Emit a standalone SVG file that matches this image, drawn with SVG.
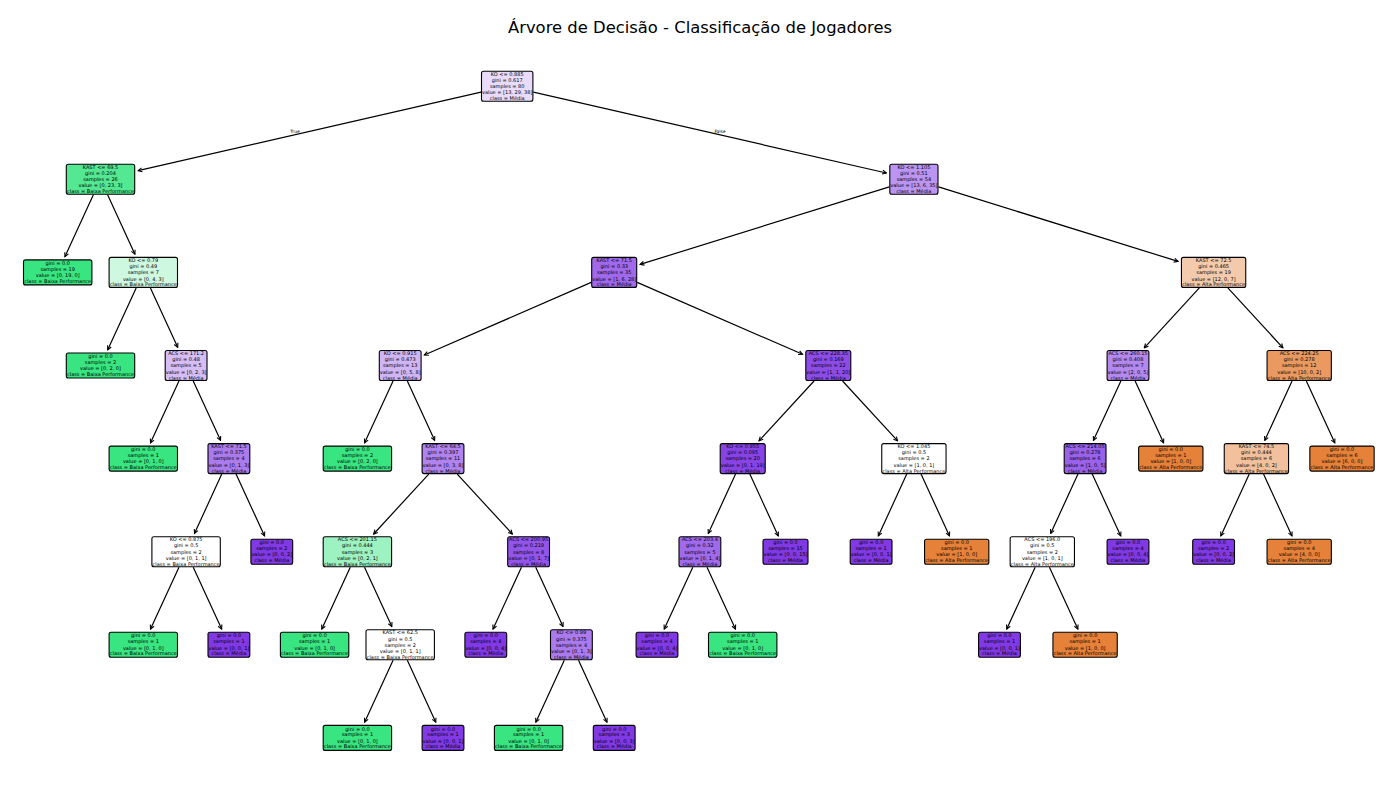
<svg xmlns="http://www.w3.org/2000/svg" width="1400" height="800" viewBox="0 0 1400 800">
<style>
.node rect{stroke:#000;stroke-width:1.1}
.node text{font-family:"DejaVu Sans","Liberation Sans",sans-serif;font-size:5.0px;text-anchor:middle;fill:#000;text-rendering:geometricPrecision}
.g{fill:#39e581}.p{fill:#8139e5}.o{fill:#e58139}.w{fill:#ffffff}
#edges line{stroke:#000;stroke-width:1.2;marker-end:url(#ah)}
.lbl{font-family:"DejaVu Sans","Liberation Sans",sans-serif;font-size:4.4px;text-anchor:middle;fill:#000;text-rendering:geometricPrecision}
.title{font-family:"DejaVu Sans","Liberation Sans",sans-serif;font-size:16.4px;text-anchor:middle;fill:#000}
</style>
<defs>
<marker id="ah" viewBox="-5 -3 6 6" markerWidth="6" markerHeight="6" refX="0" refY="0" orient="auto" markerUnits="userSpaceOnUse">
<path d="M-4,-2 L0,0 L-4,2" fill="none" stroke="#000" stroke-width="1.1"/>
</marker>
</defs>
<rect width="1400" height="800" fill="#ffffff"/>
<text class="title" x="700" y="32.5">Árvore de Decisão - Classificação de Jogadores</text>
<text class="lbl" x="295" y="132.5">True</text>
<text class="lbl" x="720" y="132.5">False</text>

<g id="edges">
<line x1="481.0" y1="92.2" x2="138.1" y2="170.7"/>
<line x1="533.4" y1="92.2" x2="886.4" y2="173.0"/>
<line x1="889.3" y1="186.9" x2="640.1" y2="264.4"/>
<line x1="938.5" y1="186.9" x2="1178.1" y2="261.4"/>
<line x1="591.2" y1="282.4" x2="424.35" y2="355.0"/>
<line x1="637.2" y1="282.4" x2="802.55" y2="354.3"/>
<line x1="1199.35" y1="287.9" x2="1144.28" y2="347.79"/>
<line x1="1227.85" y1="287.9" x2="1282.92" y2="347.79"/>
<line x1="93.37" y1="194.8" x2="64.93" y2="256.67"/>
<line x1="107.63" y1="194.8" x2="134.92" y2="254.17"/>
<line x1="136.17" y1="287.9" x2="107.73" y2="349.77"/>
<line x1="150.43" y1="287.9" x2="177.72" y2="347.27"/>
<line x1="178.97" y1="381" x2="150.53" y2="442.87"/>
<line x1="193.23" y1="381" x2="220.52" y2="440.37"/>
<line x1="221.77" y1="474.1" x2="194.48" y2="533.47"/>
<line x1="236.03" y1="474.1" x2="264.57" y2="535.97"/>
<line x1="178.97" y1="567.2" x2="150.53" y2="629.07"/>
<line x1="193.23" y1="567.2" x2="221.67" y2="629.07"/>
<line x1="393.07" y1="381" x2="364.63" y2="442.87"/>
<line x1="407.33" y1="381" x2="434.62" y2="440.37"/>
<line x1="428.75" y1="474.1" x2="373.68" y2="533.99"/>
<line x1="457.25" y1="474.1" x2="512.32" y2="533.99"/>
<line x1="350.27" y1="567.2" x2="321.83" y2="629.07"/>
<line x1="364.53" y1="567.2" x2="391.82" y2="626.57"/>
<line x1="393.07" y1="660.3" x2="364.63" y2="722.17"/>
<line x1="407.33" y1="660.3" x2="435.77" y2="722.17"/>
<line x1="521.47" y1="567.2" x2="493.03" y2="629.07"/>
<line x1="535.73" y1="567.2" x2="563.02" y2="626.57"/>
<line x1="564.27" y1="660.3" x2="535.83" y2="722.17"/>
<line x1="578.53" y1="660.3" x2="606.97" y2="722.17"/>
<line x1="814.05" y1="381" x2="758.98" y2="440.89"/>
<line x1="842.55" y1="381" x2="897.62" y2="440.89"/>
<line x1="735.57" y1="474.1" x2="708.28" y2="533.47"/>
<line x1="749.83" y1="474.1" x2="778.27" y2="535.97"/>
<line x1="692.77" y1="567.2" x2="664.23" y2="629.07"/>
<line x1="707.03" y1="567.2" x2="735.47" y2="629.07"/>
<line x1="906.77" y1="474.1" x2="878.33" y2="535.97"/>
<line x1="921.03" y1="474.1" x2="949.47" y2="535.97"/>
<line x1="1120.87" y1="381" x2="1093.48" y2="440.37"/>
<line x1="1135.13" y1="381" x2="1163.57" y2="442.87"/>
<line x1="1077.97" y1="474.1" x2="1050.68" y2="533.47"/>
<line x1="1092.23" y1="474.1" x2="1120.77" y2="535.97"/>
<line x1="1035.17" y1="567.2" x2="1006.73" y2="629.07"/>
<line x1="1049.43" y1="567.2" x2="1077.87" y2="629.07"/>
<line x1="1292.07" y1="381" x2="1264.78" y2="440.37"/>
<line x1="1306.33" y1="381" x2="1334.77" y2="442.87"/>
<line x1="1249.27" y1="474.1" x2="1220.83" y2="535.97"/>
<line x1="1263.53" y1="474.1" x2="1291.97" y2="535.97"/>
</g>

<g id="n0" class="node" transform="translate(507.2,86.2)"><rect x="-25.7" y="-15" width="51.4" height="30" rx="2" fill="#e9dcfa"/><text><tspan x="0" y="-10.4">KO &lt;= 0.885</tspan><tspan x="0" y="-4.3">gini = 0.617</tspan><tspan x="0" y="1.8">samples = 80</tspan><tspan x="0" y="8.2">value = [13, 29, 38]</tspan><tspan x="0" y="14.1">class = Média</tspan></text></g>
<g id="n1" class="node" transform="translate(100.5,179.3)"><rect x="-34.2" y="-15" width="68.4" height="30" rx="2" fill="#53e891"/><text><tspan x="0" y="-10.4">KAST &lt;= 69.5</tspan><tspan x="0" y="-4.3">gini = 0.204</tspan><tspan x="0" y="1.8">samples = 26</tspan><tspan x="0" y="8.2">value = [0, 23, 3]</tspan><tspan x="0" y="14.1">class = Baixa Performance</tspan></text></g>
<g id="n2" class="node" transform="translate(913.9,179.3)"><rect x="-24.1" y="-15" width="48.2" height="30" rx="2" fill="#bb95f1"/><text><tspan x="0" y="-10.4">KO &lt;= 1.105</tspan><tspan x="0" y="-4.3">gini = 0.51</tspan><tspan x="0" y="1.8">samples = 54</tspan><tspan x="0" y="8.2">value = [13, 6, 35]</tspan><tspan x="0" y="14.1">class = Média</tspan></text></g>
<g id="n3" class="node" transform="translate(57.7,272.4)"><rect class="g" x="-34.2" y="-12.5" width="68.4" height="25" rx="2"/><text><tspan x="0" y="-7.4">gini = 0.0</tspan><tspan x="0" y="-1.5">samples = 19</tspan><tspan x="0" y="4.8">value = [0, 19, 0]</tspan><tspan x="0" y="10.6">class = Baixa Performance</tspan></text></g>
<g id="n4" class="node" transform="translate(143.3,272.4)"><rect x="-34.2" y="-15" width="68.4" height="30" rx="2" fill="#cef8e0"/><text><tspan x="0" y="-10.4">KO &lt;= 0.79</tspan><tspan x="0" y="-4.3">gini = 0.49</tspan><tspan x="0" y="1.8">samples = 7</tspan><tspan x="0" y="8.2">value = [0, 4, 3]</tspan><tspan x="0" y="14.1">class = Baixa Performance</tspan></text></g>
<g id="n5" class="node" transform="translate(614.2,272.4)"><rect x="-22.5" y="-15" width="45" height="30" rx="2" fill="#a069eb"/><text><tspan x="0" y="-10.4">KAST &lt;= 71.5</tspan><tspan x="0" y="-4.3">gini = 0.33</tspan><tspan x="0" y="1.8">samples = 35</tspan><tspan x="0" y="8.2">value = [1, 6, 28]</tspan><tspan x="0" y="14.1">class = Média</tspan></text></g>
<g id="n6" class="node" transform="translate(1213.6,272.4)"><rect x="-32.15" y="-15" width="64.3" height="30" rx="2" fill="#f4caac"/><text><tspan x="0" y="-10.4">KAST &lt;= 72.5</tspan><tspan x="0" y="-4.3">gini = 0.465</tspan><tspan x="0" y="1.8">samples = 19</tspan><tspan x="0" y="8.2">value = [12, 0, 7]</tspan><tspan x="0" y="14.1">class = Alta Performance</tspan></text></g>
<g id="n7" class="node" transform="translate(100.5,365.5)"><rect class="g" x="-34.2" y="-12.5" width="68.4" height="25" rx="2"/><text><tspan x="0" y="-7.4">gini = 0.0</tspan><tspan x="0" y="-1.5">samples = 2</tspan><tspan x="0" y="4.8">value = [0, 2, 0]</tspan><tspan x="0" y="10.6">class = Baixa Performance</tspan></text></g>
<g id="n8" class="node" transform="translate(186.1,365.5)"><rect x="-20.9" y="-15" width="41.8" height="30" rx="2" fill="#d5bdf6"/><text><tspan x="0" y="-10.4">ACS &lt;= 171.2</tspan><tspan x="0" y="-4.3">gini = 0.48</tspan><tspan x="0" y="1.8">samples = 5</tspan><tspan x="0" y="8.2">value = [0, 2, 3]</tspan><tspan x="0" y="14.1">class = Média</tspan></text></g>
<g id="n9" class="node" transform="translate(400.2,365.5)"><rect x="-20.9" y="-15" width="41.8" height="30" rx="2" fill="#d0b5f5"/><text><tspan x="0" y="-10.4">KO &lt;= 0.915</tspan><tspan x="0" y="-4.3">gini = 0.473</tspan><tspan x="0" y="1.8">samples = 13</tspan><tspan x="0" y="8.2">value = [0, 5, 8]</tspan><tspan x="0" y="14.1">class = Média</tspan></text></g>
<g id="n10" class="node" transform="translate(828.3,365.5)"><rect x="-22.5" y="-15" width="45" height="30" rx="2" fill="#8d4ce7"/><text><tspan x="0" y="-10.4">ACS &lt;= 228.35</tspan><tspan x="0" y="-4.3">gini = 0.169</tspan><tspan x="0" y="1.8">samples = 22</tspan><tspan x="0" y="8.2">value = [1, 1, 20]</tspan><tspan x="0" y="14.1">class = Média</tspan></text></g>
<g id="n11" class="node" transform="translate(1128.0,365.5)"><rect x="-20.9" y="-15" width="41.8" height="30" rx="2" fill="#b388ef"/><text><tspan x="0" y="-10.4">ACS &lt;= 260.15</tspan><tspan x="0" y="-4.3">gini = 0.408</tspan><tspan x="0" y="1.8">samples = 7</tspan><tspan x="0" y="8.2">value = [2, 0, 5]</tspan><tspan x="0" y="14.1">class = Média</tspan></text></g>
<g id="n12" class="node" transform="translate(1299.2,365.5)"><rect x="-32.15" y="-15" width="64.3" height="30" rx="2" fill="#ea9a61"/><text><tspan x="0" y="-10.4">ACS &lt;= 224.25</tspan><tspan x="0" y="-4.3">gini = 0.278</tspan><tspan x="0" y="1.8">samples = 12</tspan><tspan x="0" y="8.2">value = [10, 0, 2]</tspan><tspan x="0" y="14.1">class = Alta Performance</tspan></text></g>
<g id="n13" class="node" transform="translate(143.3,458.6)"><rect class="g" x="-34.2" y="-12.5" width="68.4" height="25" rx="2"/><text><tspan x="0" y="-7.4">gini = 0.0</tspan><tspan x="0" y="-1.5">samples = 1</tspan><tspan x="0" y="4.8">value = [0, 1, 0]</tspan><tspan x="0" y="10.6">class = Baixa Performance</tspan></text></g>
<g id="n14" class="node" transform="translate(228.9,458.6)"><rect x="-20.9" y="-15" width="41.8" height="30" rx="2" fill="#ab7bee"/><text><tspan x="0" y="-10.4">KAST &lt;= 71.5</tspan><tspan x="0" y="-4.3">gini = 0.375</tspan><tspan x="0" y="1.8">samples = 4</tspan><tspan x="0" y="8.2">value = [0, 1, 3]</tspan><tspan x="0" y="14.1">class = Média</tspan></text></g>
<g id="n15" class="node" transform="translate(357.4,458.6)"><rect class="g" x="-34.2" y="-12.5" width="68.4" height="25" rx="2"/><text><tspan x="0" y="-7.4">gini = 0.0</tspan><tspan x="0" y="-1.5">samples = 2</tspan><tspan x="0" y="4.8">value = [0, 2, 0]</tspan><tspan x="0" y="10.6">class = Baixa Performance</tspan></text></g>
<g id="n16" class="node" transform="translate(443.0,458.6)"><rect x="-20.9" y="-15" width="41.8" height="30" rx="2" fill="#b083ef"/><text><tspan x="0" y="-10.4">KAST &lt;= 64.5</tspan><tspan x="0" y="-4.3">gini = 0.397</tspan><tspan x="0" y="1.8">samples = 11</tspan><tspan x="0" y="8.2">value = [0, 3, 8]</tspan><tspan x="0" y="14.1">class = Média</tspan></text></g>
<g id="n17" class="node" transform="translate(742.7,458.6)"><rect x="-22.5" y="-15" width="45" height="30" rx="2" fill="#8843e6"/><text><tspan x="0" y="-10.4">KO &lt;= 0.955</tspan><tspan x="0" y="-4.3">gini = 0.095</tspan><tspan x="0" y="1.8">samples = 20</tspan><tspan x="0" y="8.2">value = [0, 1, 19]</tspan><tspan x="0" y="14.1">class = Média</tspan></text></g>
<g id="n18" class="node" transform="translate(913.9,458.6)"><rect class="w" x="-32.15" y="-15" width="64.3" height="30" rx="2"/><text><tspan x="0" y="-10.4">KO &lt;= 1.045</tspan><tspan x="0" y="-4.3">gini = 0.5</tspan><tspan x="0" y="1.8">samples = 2</tspan><tspan x="0" y="8.2">value = [1, 0, 1]</tspan><tspan x="0" y="14.1">class = Alta Performance</tspan></text></g>
<g id="n19" class="node" transform="translate(1085.1,458.6)"><rect x="-20.9" y="-15" width="41.8" height="30" rx="2" fill="#9a61ea"/><text><tspan x="0" y="-10.4">ACS &lt;= 214.05</tspan><tspan x="0" y="-4.3">gini = 0.278</tspan><tspan x="0" y="1.8">samples = 6</tspan><tspan x="0" y="8.2">value = [1, 0, 5]</tspan><tspan x="0" y="14.1">class = Média</tspan></text></g>
<g id="n20" class="node" transform="translate(1170.8,458.6)"><rect class="o" x="-32.15" y="-12.5" width="64.3" height="25" rx="2"/><text><tspan x="0" y="-7.4">gini = 0.0</tspan><tspan x="0" y="-1.5">samples = 1</tspan><tspan x="0" y="4.8">value = [1, 0, 0]</tspan><tspan x="0" y="10.6">class = Alta Performance</tspan></text></g>
<g id="n21" class="node" transform="translate(1256.4,458.6)"><rect x="-32.15" y="-15" width="64.3" height="30" rx="2" fill="#f2c09c"/><text><tspan x="0" y="-10.4">KAST &lt;= 74.5</tspan><tspan x="0" y="-4.3">gini = 0.444</tspan><tspan x="0" y="1.8">samples = 6</tspan><tspan x="0" y="8.2">value = [4, 0, 2]</tspan><tspan x="0" y="14.1">class = Alta Performance</tspan></text></g>
<g id="n22" class="node" transform="translate(1342.0,458.6)"><rect class="o" x="-32.15" y="-12.5" width="64.3" height="25" rx="2"/><text><tspan x="0" y="-7.4">gini = 0.0</tspan><tspan x="0" y="-1.5">samples = 6</tspan><tspan x="0" y="4.8">value = [6, 0, 0]</tspan><tspan x="0" y="10.6">class = Alta Performance</tspan></text></g>
<g id="n23" class="node" transform="translate(186.1,551.7)"><rect class="w" x="-34.2" y="-15" width="68.4" height="30" rx="2"/><text><tspan x="0" y="-10.4">KO &lt;= 0.875</tspan><tspan x="0" y="-4.3">gini = 0.5</tspan><tspan x="0" y="1.8">samples = 2</tspan><tspan x="0" y="8.2">value = [0, 1, 1]</tspan><tspan x="0" y="14.1">class = Baixa Performance</tspan></text></g>
<g id="n24" class="node" transform="translate(271.8,551.7)"><rect class="p" x="-20.9" y="-12.5" width="41.8" height="25" rx="2"/><text><tspan x="0" y="-7.4">gini = 0.0</tspan><tspan x="0" y="-1.5">samples = 2</tspan><tspan x="0" y="4.8">value = [0, 0, 2]</tspan><tspan x="0" y="10.6">class = Média</tspan></text></g>
<g id="n25" class="node" transform="translate(357.4,551.7)"><rect x="-34.2" y="-15" width="68.4" height="30" rx="2" fill="#9cf2c0"/><text><tspan x="0" y="-10.4">ACS &lt;= 201.15</tspan><tspan x="0" y="-4.3">gini = 0.444</tspan><tspan x="0" y="1.8">samples = 3</tspan><tspan x="0" y="8.2">value = [0, 2, 1]</tspan><tspan x="0" y="14.1">class = Baixa Performance</tspan></text></g>
<g id="n26" class="node" transform="translate(528.6,551.7)"><rect x="-20.9" y="-15" width="41.8" height="30" rx="2" fill="#9355e9"/><text><tspan x="0" y="-10.4">ACS &lt;= 200.95</tspan><tspan x="0" y="-4.3">gini = 0.219</tspan><tspan x="0" y="1.8">samples = 8</tspan><tspan x="0" y="8.2">value = [0, 1, 7]</tspan><tspan x="0" y="14.1">class = Média</tspan></text></g>
<g id="n27" class="node" transform="translate(699.9,551.7)"><rect x="-20.9" y="-15" width="41.8" height="30" rx="2" fill="#a06aec"/><text><tspan x="0" y="-10.4">ACS &lt;= 203.4</tspan><tspan x="0" y="-4.3">gini = 0.32</tspan><tspan x="0" y="1.8">samples = 5</tspan><tspan x="0" y="8.2">value = [0, 1, 4]</tspan><tspan x="0" y="14.1">class = Média</tspan></text></g>
<g id="n28" class="node" transform="translate(785.5,551.7)"><rect class="p" x="-22.5" y="-12.5" width="45" height="25" rx="2"/><text><tspan x="0" y="-7.4">gini = 0.0</tspan><tspan x="0" y="-1.5">samples = 15</tspan><tspan x="0" y="4.8">value = [0, 0, 15]</tspan><tspan x="0" y="10.6">class = Média</tspan></text></g>
<g id="n29" class="node" transform="translate(871.1,551.7)"><rect class="p" x="-20.9" y="-12.5" width="41.8" height="25" rx="2"/><text><tspan x="0" y="-7.4">gini = 0.0</tspan><tspan x="0" y="-1.5">samples = 1</tspan><tspan x="0" y="4.8">value = [0, 0, 1]</tspan><tspan x="0" y="10.6">class = Média</tspan></text></g>
<g id="n30" class="node" transform="translate(956.7,551.7)"><rect class="o" x="-32.15" y="-12.5" width="64.3" height="25" rx="2"/><text><tspan x="0" y="-7.4">gini = 0.0</tspan><tspan x="0" y="-1.5">samples = 1</tspan><tspan x="0" y="4.8">value = [1, 0, 0]</tspan><tspan x="0" y="10.6">class = Alta Performance</tspan></text></g>
<g id="n31" class="node" transform="translate(1042.3,551.7)"><rect class="w" x="-32.15" y="-15" width="64.3" height="30" rx="2"/><text><tspan x="0" y="-10.4">ACS &lt;= 196.0</tspan><tspan x="0" y="-4.3">gini = 0.5</tspan><tspan x="0" y="1.8">samples = 2</tspan><tspan x="0" y="8.2">value = [1, 0, 1]</tspan><tspan x="0" y="14.1">class = Alta Performance</tspan></text></g>
<g id="n32" class="node" transform="translate(1128.0,551.7)"><rect class="p" x="-20.9" y="-12.5" width="41.8" height="25" rx="2"/><text><tspan x="0" y="-7.4">gini = 0.0</tspan><tspan x="0" y="-1.5">samples = 4</tspan><tspan x="0" y="4.8">value = [0, 0, 4]</tspan><tspan x="0" y="10.6">class = Média</tspan></text></g>
<g id="n33" class="node" transform="translate(1213.6,551.7)"><rect class="p" x="-20.9" y="-12.5" width="41.8" height="25" rx="2"/><text><tspan x="0" y="-7.4">gini = 0.0</tspan><tspan x="0" y="-1.5">samples = 2</tspan><tspan x="0" y="4.8">value = [0, 0, 2]</tspan><tspan x="0" y="10.6">class = Média</tspan></text></g>
<g id="n34" class="node" transform="translate(1299.2,551.7)"><rect class="o" x="-32.15" y="-12.5" width="64.3" height="25" rx="2"/><text><tspan x="0" y="-7.4">gini = 0.0</tspan><tspan x="0" y="-1.5">samples = 4</tspan><tspan x="0" y="4.8">value = [4, 0, 0]</tspan><tspan x="0" y="10.6">class = Alta Performance</tspan></text></g>
<g id="n35" class="node" transform="translate(143.3,644.8)"><rect class="g" x="-34.2" y="-12.5" width="68.4" height="25" rx="2"/><text><tspan x="0" y="-7.4">gini = 0.0</tspan><tspan x="0" y="-1.5">samples = 1</tspan><tspan x="0" y="4.8">value = [0, 1, 0]</tspan><tspan x="0" y="10.6">class = Baixa Performance</tspan></text></g>
<g id="n36" class="node" transform="translate(228.9,644.8)"><rect class="p" x="-20.9" y="-12.5" width="41.8" height="25" rx="2"/><text><tspan x="0" y="-7.4">gini = 0.0</tspan><tspan x="0" y="-1.5">samples = 1</tspan><tspan x="0" y="4.8">value = [0, 0, 1]</tspan><tspan x="0" y="10.6">class = Média</tspan></text></g>
<g id="n37" class="node" transform="translate(314.6,644.8)"><rect class="g" x="-34.2" y="-12.5" width="68.4" height="25" rx="2"/><text><tspan x="0" y="-7.4">gini = 0.0</tspan><tspan x="0" y="-1.5">samples = 1</tspan><tspan x="0" y="4.8">value = [0, 1, 0]</tspan><tspan x="0" y="10.6">class = Baixa Performance</tspan></text></g>
<g id="n38" class="node" transform="translate(400.2,644.8)"><rect class="w" x="-34.2" y="-15" width="68.4" height="30" rx="2"/><text><tspan x="0" y="-10.4">KAST &lt;= 62.5</tspan><tspan x="0" y="-4.3">gini = 0.5</tspan><tspan x="0" y="1.8">samples = 2</tspan><tspan x="0" y="8.2">value = [0, 1, 1]</tspan><tspan x="0" y="14.1">class = Baixa Performance</tspan></text></g>
<g id="n39" class="node" transform="translate(485.8,644.8)"><rect class="p" x="-20.9" y="-12.5" width="41.8" height="25" rx="2"/><text><tspan x="0" y="-7.4">gini = 0.0</tspan><tspan x="0" y="-1.5">samples = 4</tspan><tspan x="0" y="4.8">value = [0, 0, 4]</tspan><tspan x="0" y="10.6">class = Média</tspan></text></g>
<g id="n40" class="node" transform="translate(571.4,644.8)"><rect x="-20.9" y="-15" width="41.8" height="30" rx="2" fill="#ab7bee"/><text><tspan x="0" y="-10.4">KO &lt;= 0.99</tspan><tspan x="0" y="-4.3">gini = 0.375</tspan><tspan x="0" y="1.8">samples = 4</tspan><tspan x="0" y="8.2">value = [0, 1, 3]</tspan><tspan x="0" y="14.1">class = Média</tspan></text></g>
<g id="n41" class="node" transform="translate(657.0,644.8)"><rect class="p" x="-20.9" y="-12.5" width="41.8" height="25" rx="2"/><text><tspan x="0" y="-7.4">gini = 0.0</tspan><tspan x="0" y="-1.5">samples = 4</tspan><tspan x="0" y="4.8">value = [0, 0, 4]</tspan><tspan x="0" y="10.6">class = Média</tspan></text></g>
<g id="n42" class="node" transform="translate(742.7,644.8)"><rect class="g" x="-34.2" y="-12.5" width="68.4" height="25" rx="2"/><text><tspan x="0" y="-7.4">gini = 0.0</tspan><tspan x="0" y="-1.5">samples = 1</tspan><tspan x="0" y="4.8">value = [0, 1, 0]</tspan><tspan x="0" y="10.6">class = Baixa Performance</tspan></text></g>
<g id="n43" class="node" transform="translate(999.5,644.8)"><rect class="p" x="-20.9" y="-12.5" width="41.8" height="25" rx="2"/><text><tspan x="0" y="-7.4">gini = 0.0</tspan><tspan x="0" y="-1.5">samples = 1</tspan><tspan x="0" y="4.8">value = [0, 0, 1]</tspan><tspan x="0" y="10.6">class = Média</tspan></text></g>
<g id="n44" class="node" transform="translate(1085.1,644.8)"><rect class="o" x="-32.15" y="-12.5" width="64.3" height="25" rx="2"/><text><tspan x="0" y="-7.4">gini = 0.0</tspan><tspan x="0" y="-1.5">samples = 1</tspan><tspan x="0" y="4.8">value = [1, 0, 0]</tspan><tspan x="0" y="10.6">class = Alta Performance</tspan></text></g>
<g id="n45" class="node" transform="translate(357.4,737.9)"><rect class="g" x="-34.2" y="-12.5" width="68.4" height="25" rx="2"/><text><tspan x="0" y="-7.4">gini = 0.0</tspan><tspan x="0" y="-1.5">samples = 1</tspan><tspan x="0" y="4.8">value = [0, 1, 0]</tspan><tspan x="0" y="10.6">class = Baixa Performance</tspan></text></g>
<g id="n46" class="node" transform="translate(443.0,737.9)"><rect class="p" x="-20.9" y="-12.5" width="41.8" height="25" rx="2"/><text><tspan x="0" y="-7.4">gini = 0.0</tspan><tspan x="0" y="-1.5">samples = 1</tspan><tspan x="0" y="4.8">value = [0, 0, 1]</tspan><tspan x="0" y="10.6">class = Média</tspan></text></g>
<g id="n47" class="node" transform="translate(528.6,737.9)"><rect class="g" x="-34.2" y="-12.5" width="68.4" height="25" rx="2"/><text><tspan x="0" y="-7.4">gini = 0.0</tspan><tspan x="0" y="-1.5">samples = 1</tspan><tspan x="0" y="4.8">value = [0, 1, 0]</tspan><tspan x="0" y="10.6">class = Baixa Performance</tspan></text></g>
<g id="n48" class="node" transform="translate(614.2,737.9)"><rect class="p" x="-20.9" y="-12.5" width="41.8" height="25" rx="2"/><text><tspan x="0" y="-7.4">gini = 0.0</tspan><tspan x="0" y="-1.5">samples = 3</tspan><tspan x="0" y="4.8">value = [0, 0, 3]</tspan><tspan x="0" y="10.6">class = Média</tspan></text></g>
</svg>
